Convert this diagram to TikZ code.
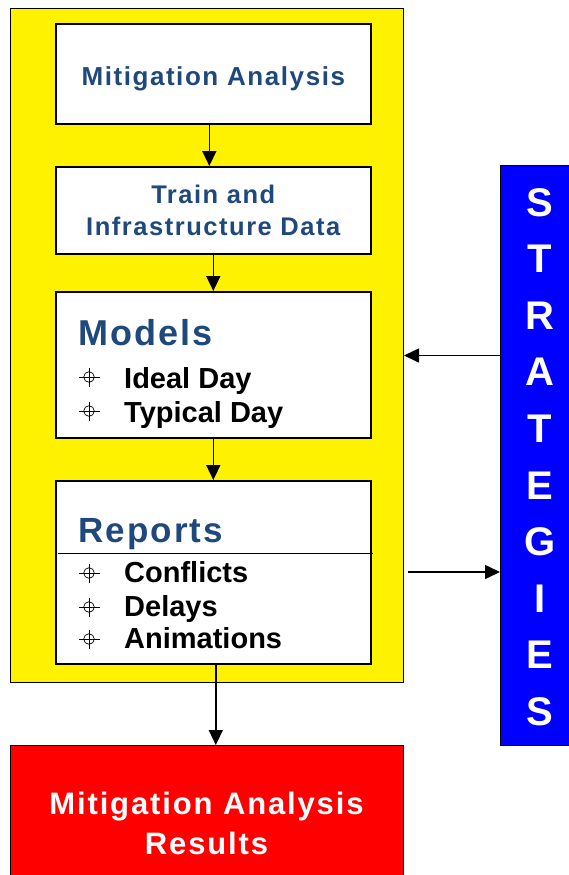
\documentclass[tikz,border=0pt]{standalone}
\usepackage{fontspec}
\setmainfont{Liberation Sans}
\newfontfamily\spacedFont[LetterSpace=6]{Liberation Sans}
\usetikzlibrary{positioning, arrows.meta}
\definecolor{titleBlue}{RGB}{31,73,125}
\definecolor{stratBlue}{RGB}{0,0,255}

\begin{document}
\begin{tikzpicture}[
    x = 1pt, y = -1pt,
    rectNode/.append style = {draw, rectangle, fill = white, line width = 1.6pt, minimum width = 315pt, inner sep = 0pt, anchor = north west},
    titleText/.append style = {text = titleBlue, align = center},
    headText/.append style = {anchor = base west, text = titleBlue, inner sep = 0pt},
    itemText/.append style = {anchor = base west, inner sep = 0pt, font = \bfseries\fontsize{29}{33}\selectfont},
    stratLetter/.append style = {anchor = base, text = white, inner sep = 0pt, font = \bfseries\fontsize{40}{40}\selectfont},
    myArrow/.append style = {-{Triangle[length = 15pt, width = 14pt]}, line width = 1.6pt},
    targetBullet/.pic = {
      \draw[line width = 0.7pt] (0,0) circle (5.3pt);
      \draw[line width = 0.7pt] (-10.5pt,0) -- (10.5pt,0) (0,-9.5pt) -- (0,9.5pt);
    }
    ]
      \useasboundingbox (0,0) rectangle (569,875);

      \node[draw, fill = yellow, line width = 1pt, minimum width = 393pt, minimum height = 674pt, anchor = north west] (frame) at (10,8) {};

      \node[rectNode, minimum height = 100pt, titleText, font = \spacedFont\bfseries\fontsize{26}{32}\selectfont] (mitig) at (55,23) {\raisebox{-12pt}[0pt][0pt]{Mitigation Analysis}};
      \node[rectNode, minimum height = 87pt, titleText, font = \spacedFont\bfseries\fontsize{25.5}{32}\selectfont] (trainData) at (55,166) {Train and\\Infrastructure Data};
      \node[rectNode, minimum height = 146pt] (models) at (55,291) {};
      \node[rectNode, minimum height = 183pt] (reports) at (55,480) {};

      %% Models contents
      \node[headText, font = \spacedFont\bfseries\fontsize{36}{40}\selectfont] (modelsHead) at (78,345) {Models};
      \begin{scope}
        \clip (55,291) rectangle (370,427);
        \node[itemText] (idealDay) at (124,388) {Ideal Day};
        \node[itemText] (typicalDay) at (124,422) {Typical Day};
      \end{scope}
      \pic at (89,377) {targetBullet};
      \pic at (89,411) {targetBullet};

      %% Reports contents
      \node[headText, font = \spacedFont\bfseries\fontsize{35}{40}\selectfont] (reportsHead) at (78,542) {Reports};
      \draw[line width = 1pt] (58,553) -- (373,553);
      \node[itemText] (conflicts) at (124,582) {Conflicts};
      \node[itemText] (delays) at (124,616) {Delays};
      \node[itemText] (animations) at (124,648) {Animations};
      \foreach \y in {573, 607, 639}
        \pic at (89,\y) {targetBullet};

      %% Results and strategies
      \node[draw, fill = red, line width = 1pt, minimum width = 393pt, minimum height = 140pt, anchor = north west] (results) at (10,745) {};
      \node[text = white, align = center, font = \spacedFont\bfseries\fontsize{31}{40}\selectfont] (resultsText) at (206.5,823) {Mitigation Analysis\\Results};

      \node[draw, fill = stratBlue, line width = 1pt, minimum width = 75pt, minimum height = 580pt, anchor = north west] (strat) at (500,165) {};
      \foreach \ch [count = \i from 0] in {S,T,R,A,T,E,G,I,E,S}
        \node[stratLetter] (letter\i) at (540, 216 + 56.6*\i) {\ch};

      %% Arrows
      \coordinate (stratIn) at ([yshift = 100pt]strat.west);
      \coordinate (outStart) at (408,572);

      \draw[myArrow] ([xshift = -4pt]mitig.south) -- ([xshift = -4pt]trainData.north);
      \draw[myArrow] (trainData) -- (models);
      \draw[myArrow] (models) -- (reports);
      \draw[myArrow] ([xshift = 2.5pt]reports.south) -- ([xshift = 2.5pt]results.north -| reports.south);
      \draw[myArrow] (stratIn) -- (stratIn -| frame.east);
      \draw[myArrow] (outStart) -- (outStart -| strat.west);
    \end{tikzpicture}
\end{document}
